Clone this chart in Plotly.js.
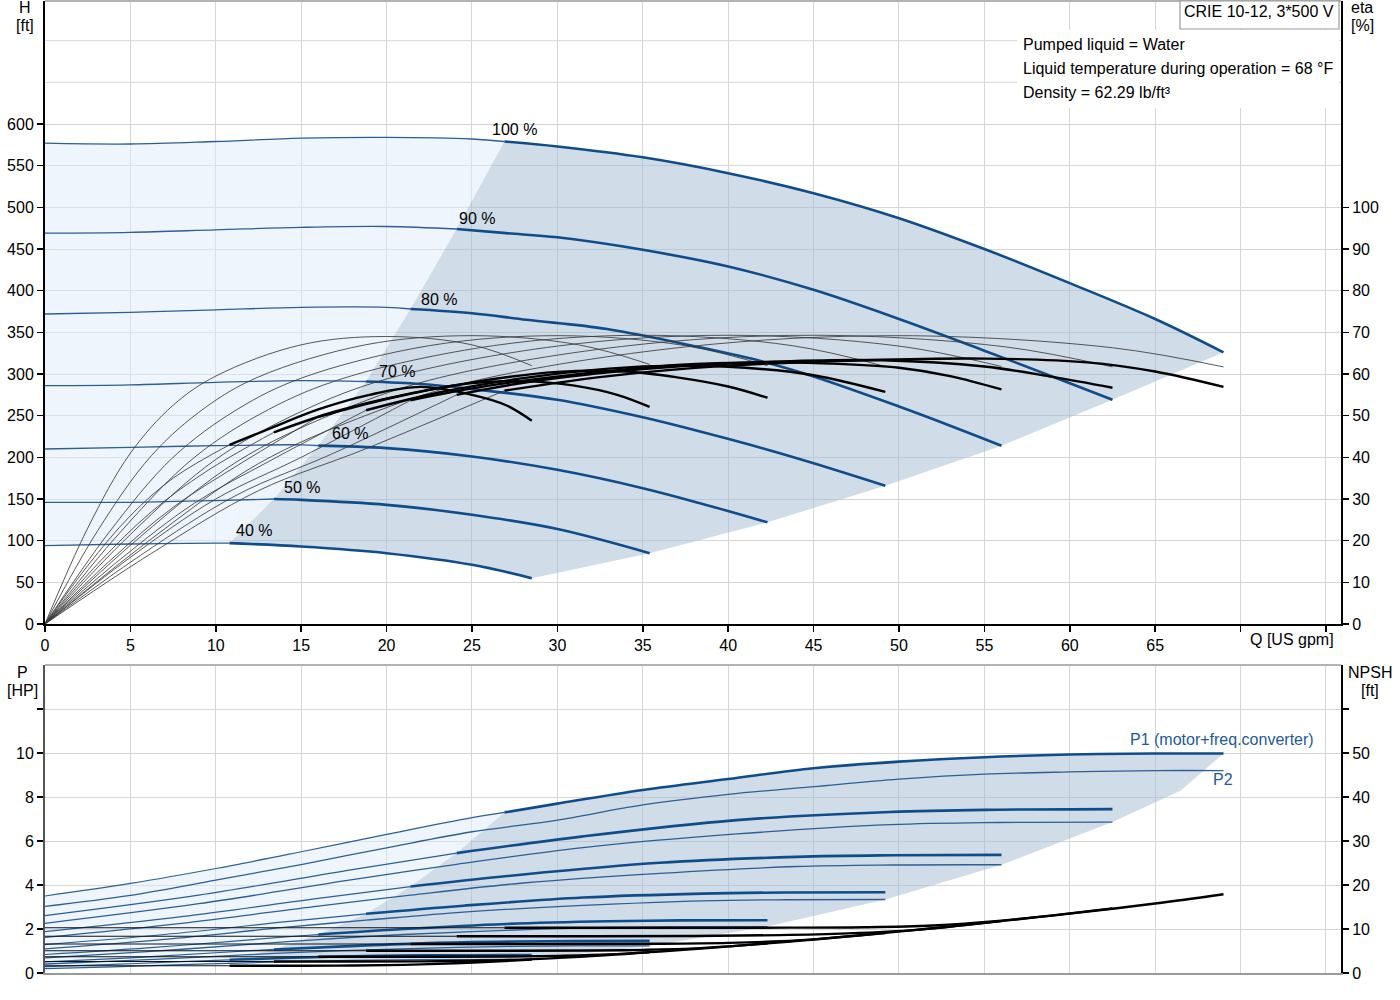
<!DOCTYPE html>
<html><head><meta charset="utf-8">
<script src="https://cdn.plot.ly/plotly-3.0.1.min.js"></script>
<style>html,body{margin:0;padding:0;background:#fff}#chart{width:1400px;height:1000px}</style>
</head><body><div id="chart"></div>
<script>
// ---------- data ----------
const speedLabels = ['40 %','50 %','60 %','70 %','80 %','90 %','100 %'];
const qMin = [10.8,13.4,16,18.8,21.4,24.1,26.9];

// Head curves H [ft]
const qH40 = [0,5,10,10.8,15,20,25,28.5];
const h40  = [94,96,97,97,93,85,71,55];
const qH50 = [0,5,10,13.4,15,20,25,30,35.4];
const h50  = [146,146,148,150,149,143,131,114,85];
const qH60 = [0,5,10,15,16,20,25,30,35,38.35,42.3];
const h60  = [210,212,214,215,214,211,201,185,163,145,122];
const qH70 = [0,5,10,15,18.8,22,25,30,35,38.35,42,45,49.2];
const h70  = [286,287,290,292,291,288,282,269,248,231,211,193,166];
const qH80 = [0,5,10,15,20,21.4,25,28.2,32.9,38.35,42,45,50,53,56];
const h80  = [372,374,377,380,380,378,373,365,354,332,315,297,261,238,214];
const qH90 = [0,5,10,15,20,24.1,27,30,35,40,45,50,55,60,62.5];
const h90  = [469,470,473,476,477,474,469,464,449,429,401,366,328,289,269];
const qH100 = [0,5,10,15,20,25,26.9,30,35,40,45,50,55,60,65,69];
const h100  = [577,576,579,583,584,582,579,573,560,541,517,487,450,409,366,326];

// Pump efficiency [%] (thin)
const qEp40 = [0,2.5,5,7.5,10,15,20,25,28.5];
const etaP40 = [0,23,41,52.5,59.5,67,69,67,62];
const qEp50 = [0,3.1,6.25,9.4,12.5,18.75,25,31.25,35.4];
const etaP50 = [0,22.5,40.5,52,59.3,67,69.2,67,62.3];
const qEp60 = [0,3.75,7.5,11.25,15,22.5,30,37.5,42.3];
const etaP60 = [0,22,40,51.5,59,66.8,69.2,66.8,62];
const qEp70 = [0,4.4,8.75,13.1,17.5,26.25,35,43.75,49.2];
const etaP70 = [0,22,40,51.5,59,66.8,69.3,66.8,61.8];
const qEp80 = [0,5,10,15,20,30,40,50,56];
const etaP80 = [0,21.5,39.5,51,58.8,66.7,69.3,66.7,61.8];
const qEp90 = [0,5.6,11.25,16.9,22.5,33.75,45,56.25,62.5];
const etaP90 = [0,21,39,50.5,58.5,66.6,69.3,66.5,61.7];
const qEp100 = [0,6.25,12.5,18.75,25,37.5,50,62.5,69];
const etaP100 = [0,20.5,38.5,50,58.2,66.5,69.2,66.3,61.7];

// Total efficiency [%] (thin below min flow, thick above)
const qEt40 = [0,2.5,5,7.5,10.8,13.4,16,19,22,25,27,28.5];
const etaT40 = [0,14,26,35,43,47.3,51.5,55,56.9,55,52.5,48.8];
const qEt50 = [0,3.1,6.25,9.4,13.4,17,21,25,28,31,33.5,35.4];
const etaT50 = [0,14.5,27,36.5,46,51,55,57.8,58.3,57.2,55,52.1];
const qEt60 = [0,3.75,7.5,11.25,16,20,25,30,34,37,40,42.3];
const etaT60 = [0,15,28,38,49.7,54,58,60.5,60.6,59.2,57,54.3];
const qEt70 = [0,4.4,8.75,13.1,18.8,23,28,33,37,41,45,49.2];
const etaT70 = [0,15.5,29,39,51.3,55.5,59,61.3,62,61.5,59.7,55.7];
const qEt80 = [0,5,10,15,21.4,26,32,37,42,46,50,53,56];
const etaT80 = [0,16,30,40,53.7,57.2,60.3,62.2,62.8,62.5,61.5,59.5,56.3];
const qEt90 = [0,5.6,11.25,16.9,24.1,29,36,43,49,55,59,62.5];
const etaT90 = [0,16.5,31,41,55,58.5,61.5,63,63.3,61.8,59.3,56.7];
const qEt100 = [0,6.25,12.5,18.75,26.9,33,40,48,55,61,65,69];
const etaT100 = [0,17,32,42,56,59.5,62,63.3,63.7,62.8,60.6,56.9];

// Power P1 / P2 [HP]
const qP40 = [0,4,8,10.8,14,18,22,24.8,28.5];
const p1_40 = [0.29,0.39,0.52,0.60,0.68,0.76,0.80,0.81,0.82];
const p2_40 = [0.20,0.28,0.38,0.44,0.51,0.57,0.61,0.61,0.62];
const qP50 = [0,5,10,13.4,17.5,22.5,27.5,31,35.4];
const p1_50 = [0.51,0.69,0.92,1.07,1.21,1.36,1.43,1.45,1.46];
const p2_50 = [0.41,0.57,0.76,0.89,1.02,1.13,1.21,1.23,1.23];
const qP60 = [0,6,12,16,21,27,33,37.2,42.3];
const p1_60 = [0.84,1.14,1.51,1.75,2.00,2.23,2.35,2.39,2.40];
const p2_60 = [0.69,0.97,1.30,1.52,1.75,1.94,2.07,2.10,2.11];
const qP70 = [0,7,14,18.8,24.5,31.5,38.5,43.4,49.2];
const p1_70 = [1.29,1.75,2.32,2.69,3.06,3.43,3.61,3.66,3.67];
const p2_70 = [1.10,1.53,2.07,2.40,2.77,3.07,3.28,3.33,3.34];
const qP80 = [0,8,16,21.4,28,36,44,49.6,56];
const p1_80 = [1.88,2.56,3.39,3.93,4.48,5.01,5.28,5.35,5.37];
const p2_80 = [1.62,2.26,3.04,3.54,4.09,4.53,4.84,4.91,4.92];
const qP90 = [0,9,18,24.1,31.5,40.5,49.5,55.8,62.5];
const p1_90 = [2.61,3.54,4.70,5.45,6.21,6.95,7.32,7.42,7.45];
const p2_90 = [2.26,3.15,4.24,4.94,5.70,6.32,6.74,6.84,6.86];
const qP100 = [0,5,10,15,20,25,26.9,30,35,40,45,50,55,60,65,69];
const p1_100 = [3.50,4.07,4.75,5.51,6.30,7.06,7.30,7.70,8.32,8.82,9.31,9.61,9.81,9.93,9.98,9.98];
const p2_100 = [3.03,3.53,4.22,4.93,5.69,6.42,6.62,6.95,7.64,8.12,8.47,8.81,9.04,9.14,9.20,9.20];
// outer edge of the power operating area
const pEdgeQ = [69,66.5,62.5,56,49.2,42.3,35.4,28.5];
const pEdgeP = [9.98,8.3,6.86,4.92,3.34,2.11,1.23,0.62];

// NPSH [ft]
const qN40 = [0,6,10.8,15,18,21,24,26,28.5];
const n40  = [1.65,1.65,1.65,1.65,1.7,1.85,2.2,2.54,3.05];
const qN50 = [0,8,13.4,18,22,25,28,31,35.4];
const n50  = [2.6,2.6,2.6,2.6,2.65,2.8,3.05,3.61,4.71];
const qN60 = [0,10,16,22,27,30,33,36,39,42.3];
const n60  = [3.7,3.7,3.7,3.7,3.75,3.9,4.2,4.9,5.72,6.73];
const qN70 = [0,10,18.8,26,32,35,38,42,45.5,49.2];
const n70  = [5.05,5.05,5.05,5.05,5.1,5.25,5.6,6.63,7.8,9.1];
const qN80 = [0,10,21.4,30,36,40,44,48,52,56];
const n80  = [6.6,6.6,6.6,6.6,6.65,6.85,7.4,8.66,10.17,11.8];
const qN90 = [0,10,20,24.1,32,38,43,47,51,55,59,62.5];
const n90  = [8.35,8.35,8.35,8.35,8.35,8.4,8.6,9.0,9.8,11.4,13.1,14.7];
const qN100 = [0,10,20,26.9,35,42,48,52,56,60,65,69];
const n100  = [10.3,10.3,10.3,10.3,10.3,10.3,10.4,10.8,11.9,13.5,15.8,17.9];

// ---------- build ----------
const H = [[qH40,h40],[qH50,h50],[qH60,h60],[qH70,h70],[qH80,h80],[qH90,h90],[qH100,h100]];
const EP = [[qEp40,etaP40],[qEp50,etaP50],[qEp60,etaP60],[qEp70,etaP70],[qEp80,etaP80],[qEp90,etaP90],[qEp100,etaP100]];
const ET = [[qEt40,etaT40],[qEt50,etaT50],[qEt60,etaT60],[qEt70,etaT70],[qEt80,etaT80],[qEt90,etaT90],[qEt100,etaT100]];
const P = [[qP40,p1_40,p2_40],[qP50,p1_50,p2_50],[qP60,p1_60,p2_60],[qP70,p1_70,p2_70],[qP80,p1_80,p2_80],[qP90,p1_90,p2_90],[qP100,p1_100,p2_100]];
const N = [[qN40,n40],[qN50,n50],[qN60,n60],[qN70,n70],[qN80,n80],[qN90,n90],[qN100,n100]];

function part(q, v, qm, upper){
  const xs=[], ys=[];
  for (let i=0;i<q.length;i++){
    if (upper ? q[i] >= qm-1e-9 : q[i] <= qm+1e-9){ xs.push(q[i]); ys.push(v[i]); }
  }
  return [xs, ys];
}
function valAt(q, v, qm){ const i=q.findIndex(x=>Math.abs(x-qm)<1e-9); return v[i]; }

const BLUE='#0f4c8a', BLUE_T='#2c5f96', FONT='Liberation Sans, Arial, sans-serif';
const traces=[];
function line(x,y,ax,color,width){
  traces.push({type:'scatter',mode:'lines',x:x,y:y,xaxis:ax[0],yaxis:ax[1],
    line:{color:color,width:width,shape:'spline',smoothing:1.0},hoverinfo:'skip',showlegend:false});
}
function poly(x,y,ax,fill){
  traces.push({type:'scatter',mode:'lines',x:x,y:y,xaxis:ax[0],yaxis:ax[1],fill:'toself',
    fillcolor:fill,line:{width:0,color:'rgba(0,0,0,0)'},hoverinfo:'skip',showlegend:false});
}
const TOP=['x','y'], ETA=['x','y2'], BOT=['x2','y3'], NP=['x2','y4'];
const LIGHT='rgba(221,236,250,0.5)', DARK='rgba(161,186,210,0.5)';

// ---- top fills
{
  const startsH = H.map((c,i)=>valAt(c[0],c[1],qMin[i]));
  const [tq100, th100] = part(qH100,h100,qMin[6],false);
  const [uq100, uh100] = part(qH100,h100,qMin[6],true);
  const [tq40, th40] = part(qH40,h40,qMin[0],false);
  const [uq40, uh40] = part(qH40,h40,qMin[0],true);
  let lx = tq100.slice(), ly = th100.slice();
  for (let i=5;i>=0;i--){ lx.push(qMin[i]); ly.push(startsH[i]); }
  lx = lx.concat(tq40.slice().reverse()); ly = ly.concat(th40.slice().reverse());
  poly(lx,ly,TOP,LIGHT);
  let dx = qMin.slice(), dy = startsH.slice();
  dx = dx.concat(uq100.slice(1)); dy = dy.concat(uh100.slice(1));
  for (let i=5;i>=1;i--){ const c=H[i]; dx.push(c[0][c[0].length-1]); dy.push(c[1][c[1].length-1]); }
  dx = dx.concat(uq40.slice().reverse()); dy = dy.concat(uh40.slice().reverse());
  poly(dx,dy,TOP,DARK);
}
// ---- bottom fills
{
  const startsP1 = P.map((c,i)=>valAt(c[0],c[1],qMin[i]));
  const p2s40 = valAt(qP40,p2_40,qMin[0]);
  const [tq, tp] = part(qP100,p1_100,qMin[6],false);
  const [uq, up] = part(qP100,p1_100,qMin[6],true);
  const [aq, ap] = part(qP40,p2_40,qMin[0],false);
  const [bq, bp] = part(qP40,p2_40,qMin[0],true);
  let lx = tq.slice(), ly = tp.slice();
  for (let i=5;i>=0;i--){ lx.push(qMin[i]); ly.push(startsP1[i]); }
  lx.push(qMin[0]); ly.push(p2s40);
  lx = lx.concat(aq.slice().reverse()); ly = ly.concat(ap.slice().reverse());
  poly(lx,ly,BOT,LIGHT);
  let dx=[qMin[0]].concat(qMin), dy=[p2s40].concat(startsP1);
  dx = dx.concat(uq.slice(1)); dy = dy.concat(up.slice(1));
  dx = dx.concat(pEdgeQ.slice(1)); dy = dy.concat(pEdgeP.slice(1));
  dx = dx.concat(bq.slice().reverse()); dy = dy.concat(bp.slice().reverse());
  poly(dx,dy,BOT,DARK);
}
// ---- top curves
H.forEach((c,i)=>{ const a=part(c[0],c[1],qMin[i],false); line(a[0],a[1],TOP,BLUE_T,1.3); });
EP.forEach(c=>{ line(c[0],c[1],ETA,'#3a3a3a',0.85); });
ET.forEach((c,i)=>{ const a=part(c[0],c[1],qMin[i],false); line(a[0],a[1],ETA,'#3a3a3a',0.85); });
H.forEach((c,i)=>{ const a=part(c[0],c[1],qMin[i],true); line(a[0],a[1],TOP,BLUE,2.6); });
ET.forEach((c,i)=>{ const a=part(c[0],c[1],qMin[i],true); line(a[0],a[1],ETA,'#000000',2.4); });
// ---- bottom curves
N.forEach((c,i)=>{ const a=part(c[0],c[1],qMin[i],false); line(a[0],a[1],NP,'#111111',1.1); });
P.forEach((c,i)=>{ const a=part(c[0],c[1],qMin[i],false); line(a[0],a[1],BOT,BLUE_T,1.2); });
P.forEach(c=>{ line(c[0],c[2],BOT,BLUE_T,1.3); });
P.forEach((c,i)=>{ const a=part(c[0],c[1],qMin[i],true); line(a[0],a[1],BOT,BLUE,2.6); });
N.forEach((c,i)=>{ const a=part(c[0],c[1],qMin[i],true); line(a[0],a[1],NP,'#000000',2.4); });

// ---------- layout ----------
const GRID='#d6d6d6';
const xTicks=[0,5,10,15,20,25,30,35,40,45,50,55,60,65,70,75];
const xText=xTicks.map(v=>v<=65?String(v):'');
const hTicks=[0,50,100,150,200,250,300,350,400,450,500,550,600];
const eTicks=[0,10,20,30,40,50,60,70,80,90,100];
const pTicks=[0,2,4,6,8,10,12];
const nTicks=[0,10,20,30,40,50,60];
const topDom=[(973-624)/972,1], botDom=[0,(973-665)/972];
const tf={family:FONT,size:16,color:'#000'};

function pa(px,py,text,opts){
  return Object.assign({xref:'paper',yref:'paper',x:(px-45)/1296,y:(973-py)/972,text:text,showarrow:false,
    font:tf,xanchor:'center',yanchor:'middle'},opts||{});
}
const annotations=[
  pa(25,8,'H'),pa(25,25,'[ft]'),
  pa(1362,8,'eta'),pa(1362,25,'[%]'),
  pa(22,672,'P'),pa(22,690,'[HP]'),
  pa(1370,672,'NPSH'),pa(1370,690,'[ft]'),
  pa(1292,639,'Q [US gpm]'),
  pa(1259,12,'CRIE 10-12, 3*500 V'),
  pa(1021,44,'Pumped liquid = Water',{xanchor:'left'}),
  pa(1021,68,'Liquid temperature during operation = 68 °F',{xanchor:'left'}),
  pa(1021,92,'Density = 62.29 lb/ft³',{xanchor:'left'}),
  pa(1222,739,'P1 (motor+freq.converter)',{font:{family:FONT,size:16,color:'#1f5a98'}}),
  pa(1223,779,'P2',{font:{family:FONT,size:16,color:'#1f5a98'}})
];
const labPos=[[12.21,112.8],[15.02,164.4],[17.83,229],[20.58,303.6],[23.07,390],[25.3,487],[27.49,594]];
speedLabels.forEach((t,i)=>annotations.push({xref:'x',yref:'y',x:labPos[i][0],y:labPos[i][1],text:t,
  showarrow:false,font:tf,xanchor:'center',yanchor:'middle'}));

const shapes=[
  {type:'line',xref:'x',yref:'y',x0:0,x1:75.88,y0:650,y1:650,line:{color:GRID,width:1},layer:'below'},
  {type:'line',xref:'x',yref:'y',x0:0,x1:75.88,y0:700,y1:700,line:{color:GRID,width:1},layer:'below'},
  {type:'line',xref:'paper',yref:'paper',x0:0,x1:1,y0:1,y1:1,line:{color:'#9a9a9a',width:1.5}},
  {type:'line',xref:'paper',yref:'paper',x0:0,x1:1,y0:botDom[1],y1:botDom[1],line:{color:'#9a9a9a',width:1.5}},
  {type:'rect',xref:'paper',yref:'paper',x0:(1017-45)/1296,x1:(1339-45)/1296,y0:(973-108)/972,y1:(973-30)/972,
    fillcolor:'#ffffff',line:{width:0},layer:'above'},
  {type:'rect',xref:'paper',yref:'paper',x0:(1180-45)/1296,x1:(1339-45)/1296,y0:(973-29)/972,y1:1,
    fillcolor:'#ffffff',line:{color:'#9a9a9a',width:1.2},layer:'above'}
];

const layout={
  width:1400,height:1000,margin:{l:45,r:59,t:1,b:27},
  paper_bgcolor:'#fff',plot_bgcolor:'#fff',font:tf,showlegend:false,hovermode:false,
  xaxis:{domain:[0,1],anchor:'y',range:[0,75.88],tickvals:xTicks,ticktext:xText,ticks:'outside',ticklen:6,
    tickcolor:'#000',tickwidth:1.5,showline:true,linecolor:'#000',linewidth:2,showgrid:true,gridcolor:GRID,gridwidth:1,
    zeroline:false,tickfont:tf},
  yaxis:{domain:topDom,anchor:'x',range:[0,747.6],tickvals:hTicks,ticks:'outside',ticklen:6,tickcolor:'#000',
    tickwidth:1.5,showline:true,linecolor:'#000',linewidth:2,showgrid:true,gridcolor:GRID,gridwidth:1,zeroline:false,tickfont:tf},
  yaxis2:{overlaying:'y',side:'right',anchor:'x',range:[0,149.52],tickvals:eTicks,ticks:'outside',ticklen:6,
    tickcolor:'#000',tickwidth:1.5,showline:true,linecolor:'#000',linewidth:2,showgrid:false,zeroline:false,tickfont:tf},
  xaxis2:{domain:[0,1],anchor:'y3',range:[0,75.88],tickvals:xTicks,showticklabels:false,ticks:'',showline:true,
    linecolor:'#9a9a9a',linewidth:1.5,showgrid:true,gridcolor:GRID,gridwidth:1,zeroline:false},
  yaxis3:{domain:botDom,anchor:'x2',range:[0,14],tickvals:pTicks,ticktext:['0','2','4','6','8','10',''],ticks:'outside',
    ticklen:6,tickcolor:'#000',tickwidth:1.5,showline:true,linecolor:'#555',linewidth:2,showgrid:true,gridcolor:GRID,
    gridwidth:1,zeroline:false,tickfont:tf},
  yaxis4:{overlaying:'y3',side:'right',anchor:'x2',range:[0,70],tickvals:nTicks,ticktext:['0','10','20','30','40','50',''],
    ticks:'outside',ticklen:6,tickcolor:'#000',tickwidth:1.5,showline:true,linecolor:'#000',linewidth:2,showgrid:false,
    zeroline:false,tickfont:tf},
  annotations:annotations,shapes:shapes
};
Plotly.newPlot('chart',traces,layout,{staticPlot:true,displayModeBar:false});
</script></body></html>
